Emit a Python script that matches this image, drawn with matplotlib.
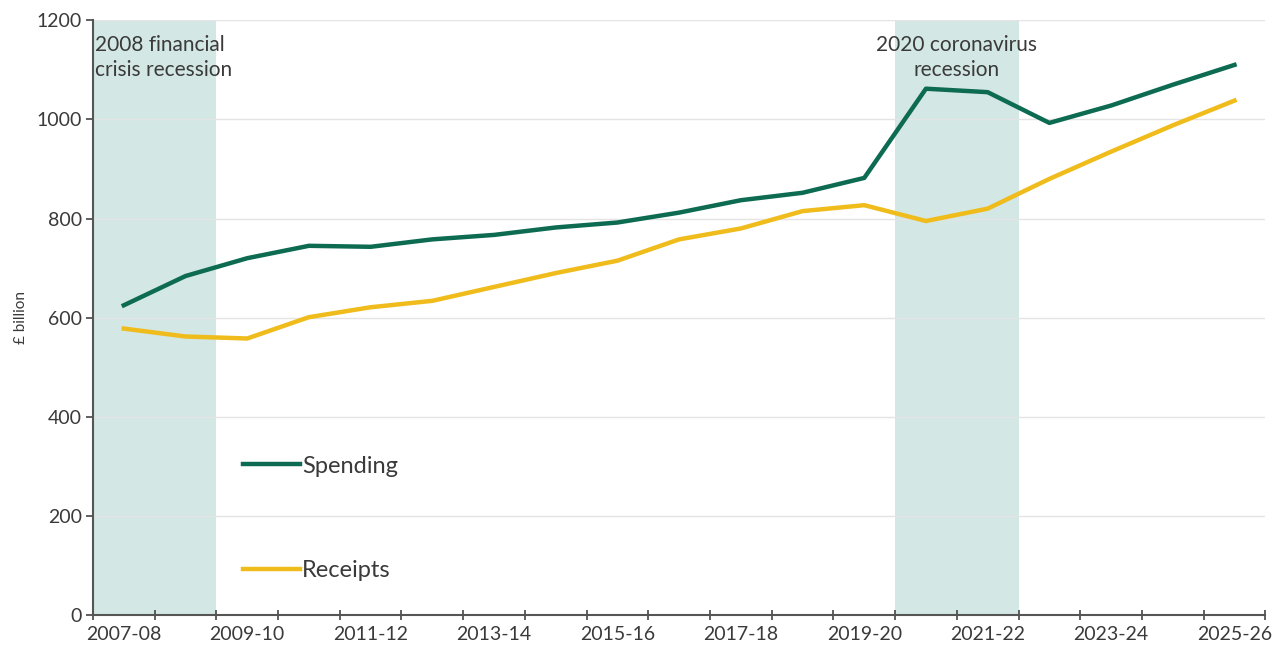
import numpy as np
import matplotlib
matplotlib.use("Agg")
import matplotlib.pyplot as plt

# financial years on the x axis
years = ["2007-08", "2008-09", "2009-10", "2010-11", "2011-12", "2012-13",
         "2013-14", "2014-15", "2015-16", "2016-17", "2017-18", "2018-19",
         "2019-20", "2020-21", "2021-22", "2022-23", "2023-24", "2024-25",
         "2025-26"]

# £ billion
spending = [625, 684, 720, 745, 743, 758, 767, 782, 792, 812, 837, 852,
            882, 1062, 1055, 993, 1028, 1070, 1110]
receipts = [578, 562, 558, 601, 621, 634, 662, 690, 715, 758, 780, 815,
            827, 795, 820, 880, 935, 988, 1038]

# recessions shaded (first, last year covered)
recessions = [("2007-08", "2008-09"), ("2020-21", "2021-22")]
recession_labels = ["2008 financial\ncrisis recession", "2020 coronavirus\nrecession"]

GREEN = "#0d6b52"
YELLOW = "#efbc1c"
SHADE = "#d3e7e4"
TEXT = "#3a3a3a"

plt.rcParams["font.family"] = ["Lato", "DejaVu Sans"]

fig = plt.figure(figsize=(12.82, 6.55), dpi=100)
ax = fig.add_axes([0.0725, 0.061, 0.9145, 0.908])

x = np.arange(len(years))

for (start, end), lab in zip(recessions, recession_labels):
    i0, i1 = years.index(start), years.index(end)
    ax.axvspan(i0 - 0.5, i1 + 0.5, color=SHADE, lw=0, zorder=0)

# annotations for shaded areas
ax.text(years.index("2007-08") - 0.47, 1170, recession_labels[0], ha="left", va="top",
        fontsize=15, color=TEXT, linespacing=1.3)
ax.text(years.index("2020-21") + 0.5, 1170, recession_labels[1], ha="center", va="top",
        fontsize=15, color=TEXT, linespacing=1.3)

ax.plot(x, spending, color=GREEN, lw=3.2, label="Spending", zorder=3)
ax.plot(x, receipts, color=YELLOW, lw=3.2, label="Receipts", zorder=3)

ax.set_xlim(-0.5, len(years) - 0.5)
ax.set_ylim(0, 1200)
ax.set_yticks(np.arange(0, 1201, 200))
ax.yaxis.grid(True, color="#e4e4e4", lw=1)
ax.set_axisbelow(True)

# ticks on category boundaries, labels on every other category centre
ax.set_xticks(np.arange(-0.5, len(years)), labels=[])
ax.set_xticks(x[::2], labels=years[::2], minor=True)
ax.tick_params(axis="x", which="major", direction="inout", length=7, width=1.2, color="#444")
ax.tick_params(axis="x", which="minor", length=0, labelsize=14, labelcolor=TEXT, pad=8)
ax.tick_params(axis="y", direction="out", length=5, width=1.2, color="#444",
               labelsize=14, labelcolor=TEXT, pad=3)

for s in ["top", "right"]:
    ax.spines[s].set_visible(False)
for s in ["left", "bottom"]:
    ax.spines[s].set_color("#555")
    ax.spines[s].set_linewidth(1.5)

ax.set_ylabel("£ billion", fontsize=11, color=TEXT, labelpad=6)

ax.legend(loc="upper left", bbox_to_anchor=(0.128, 0.268), frameon=False,
          fontsize=17, handlelength=2.4, handletextpad=0.1, labelspacing=3.55,
          borderpad=0, borderaxespad=0, labelcolor=TEXT)

fig.savefig("out.png", dpi=100)
